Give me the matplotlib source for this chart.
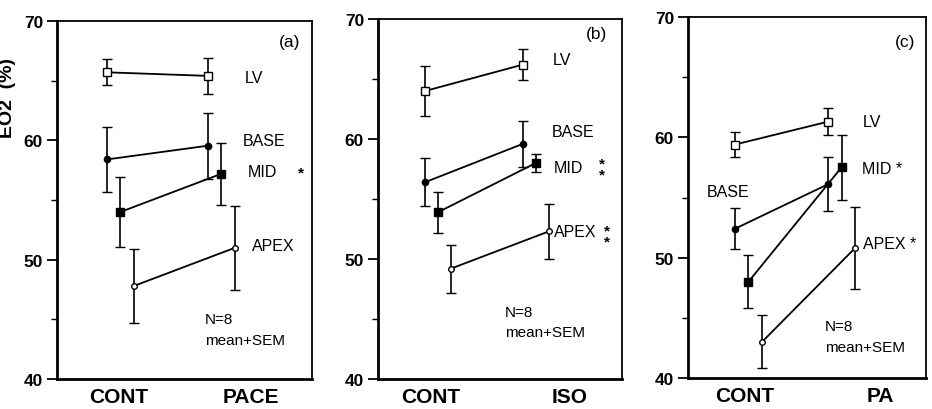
import matplotlib
matplotlib.use("Agg")
import matplotlib.pyplot as plt

plt.rcParams['font.family'] = ['Liberation Sans', 'DejaVu Sans']

# ---- data ----
series = ["LV", "BASE", "MID", "APEX"]
conditions = {"a": ["CONT", "PACE"], "b": ["CONT", "ISO"], "c": ["CONT", "PA"]}

# means [CONT, post]
a_mean = {"LV": [65.7, 65.4], "BASE": [58.4, 59.55], "MID": [54.0, 57.2], "APEX": [47.8, 51.0]}
a_sem = {"LV": [1.1, 1.5], "BASE": [2.7, 2.75], "MID": [2.9, 2.6], "APEX": [3.1, 3.5]}

b_mean = {"LV": [64.0, 66.2], "BASE": [56.4, 59.6], "MID": [53.9, 58.0], "APEX": [49.2, 52.3]}
b_sem = {"LV": [2.05, 1.3], "BASE": [2.0, 1.9], "MID": [1.7, 0.75], "APEX": [2.0, 2.3]}

c_mean = {"LV": [59.4, 61.3], "BASE": [52.4, 56.1], "MID": [48.0, 57.5], "APEX": [43.0, 50.8]}
c_sem = {"LV": [1.05, 1.1], "BASE": [1.7, 2.25], "MID": [2.2, 2.7], "APEX": [2.2, 3.4]}

panel_means = {"a": a_mean, "b": b_mean, "c": c_mean}
panel_sems = {"a": a_sem, "b": b_sem, "c": c_sem}

yticks = [40, 50, 60, 70]
minor_yticks = [45, 55, 65]

# ---- style ----
marker_style = {
    "LV": dict(marker="s", mfc="white", mec="black", ms=5.5, mew=1.0),
    "BASE": dict(marker="o", mfc="black", mec="black", ms=4.5, mew=1.0),
    "MID": dict(marker="s", mfc="black", mec="black", ms=5.5, mew=1.0),
    "APEX": dict(marker="o", mfc="white", mec="black", ms=4, mew=1.0),
}
offset_idx = {"LV": 0, "BASE": 0, "MID": 1, "APEX": 2}

axes_rect = {
    "a": [57/932, 30/410, 255/932, 358/410],
    "b": [378/932, 30/410, 244/932, 360/410],
    "c": [688/932, 31/410, 238/932, 361/410],
}
xpos = {"a": (0.196, 0.592, 0.053), "b": (0.193, 0.594, 0.053), "c": (0.197, 0.588, 0.057)}
tickpos = {"a": [0.243, 0.761], "b": [0.217, 0.787], "c": [0.24, 0.807]}

labels = {
    "a": [("LV", 0.737, 65.3), ("BASE", 0.73, 60.0), ("MID", 0.749, 57.4), ("APEX", 0.765, 51.2)],
    "b": [("LV", 0.717, 66.6), ("BASE", 0.713, 60.6), ("MID", 0.72, 57.6), ("APEX", 0.72, 52.25)],
    "c": [("LV", 0.735, 61.3), ("MID *", 0.73, 57.4), ("BASE", 0.08, 55.5), ("APEX *", 0.735, 51.2)],
}
# (x, y, text) for significance marks
stars = {
    "a": [(0.955, 57.3, "*")],
    "b": [(0.918, 57.5, "*\n*"), (0.94, 51.9, "*\n*")],
    "c": [],
}
panel_tag = {"a": (0.953, 68.3), "b": (0.94, 68.75), "c": (0.954, 68.0)}
note_pos = {"a": (0.58, 45.0, 43.3), "b": (0.52, 45.6, 43.9), "c": (0.575, 44.3, 42.6)}

fig = plt.figure(figsize=(9.32, 4.10), dpi=100)

for key in ["a", "b", "c"]:
    ax = fig.add_axes(axes_rect[key])
    x0, x1, d = xpos[key]
    for s in series:
        m = panel_means[key][s]
        e = panel_sems[key][s]
        xs = [x0 + offset_idx[s] * d, x1 + offset_idx[s] * d]
        ax.errorbar(xs, m, yerr=e, color="black", lw=1.3, elinewidth=1.2,
                    capsize=3.8, capthick=1.2, zorder=3, **marker_style[s])
    ax.set_xlim(0, 1)
    ax.set_ylim(40, 70)
    ax.set_yticks(yticks)
    ax.set_yticks(minor_yticks, minor=True)
    ax.set_yticklabels([str(t) for t in yticks], fontsize=12.5, fontweight="bold")
    ax.set_xticks(tickpos[key])
    ax.set_xticklabels(conditions[key], fontsize=15, fontweight="bold")
    ax.tick_params(axis="x", length=0, pad=6)
    ax.tick_params(axis="y", which="major", length=7, width=1.3, direction="out", pad=3)
    ax.tick_params(axis="y", which="minor", length=4, width=1.0, direction="out")
    for side in ["left", "bottom"]:
        ax.spines[side].set_linewidth(2.0)
    for side in ["top", "right"]:
        ax.spines[side].set_linewidth(1.3)
    for txt, x, y in labels[key]:
        ax.text(x, y, txt, fontsize=11.5, ha="left", va="center")
    for (x, y, t) in stars[key]:
        ax.text(x, y, t, fontsize=11, ha="center", va="center", fontweight="bold",
                linespacing=0.75)
    tx, ty = panel_tag[key]
    ax.text(tx, ty, f"({key})", fontsize=12.5, ha="right", va="center")
    nx, ny1, ny2 = note_pos[key]
    ax.text(nx, ny1, "N=8", fontsize=11, ha="left", va="center")
    ax.text(nx, ny2, "mean+SEM", fontsize=11, ha="left", va="center")

fig.text(8/932, 1 - 98/410, "EO2  (%)", rotation=90, ha="center", va="center",
         fontsize=14, fontweight="bold")

fig.savefig("out.png", dpi=100)
